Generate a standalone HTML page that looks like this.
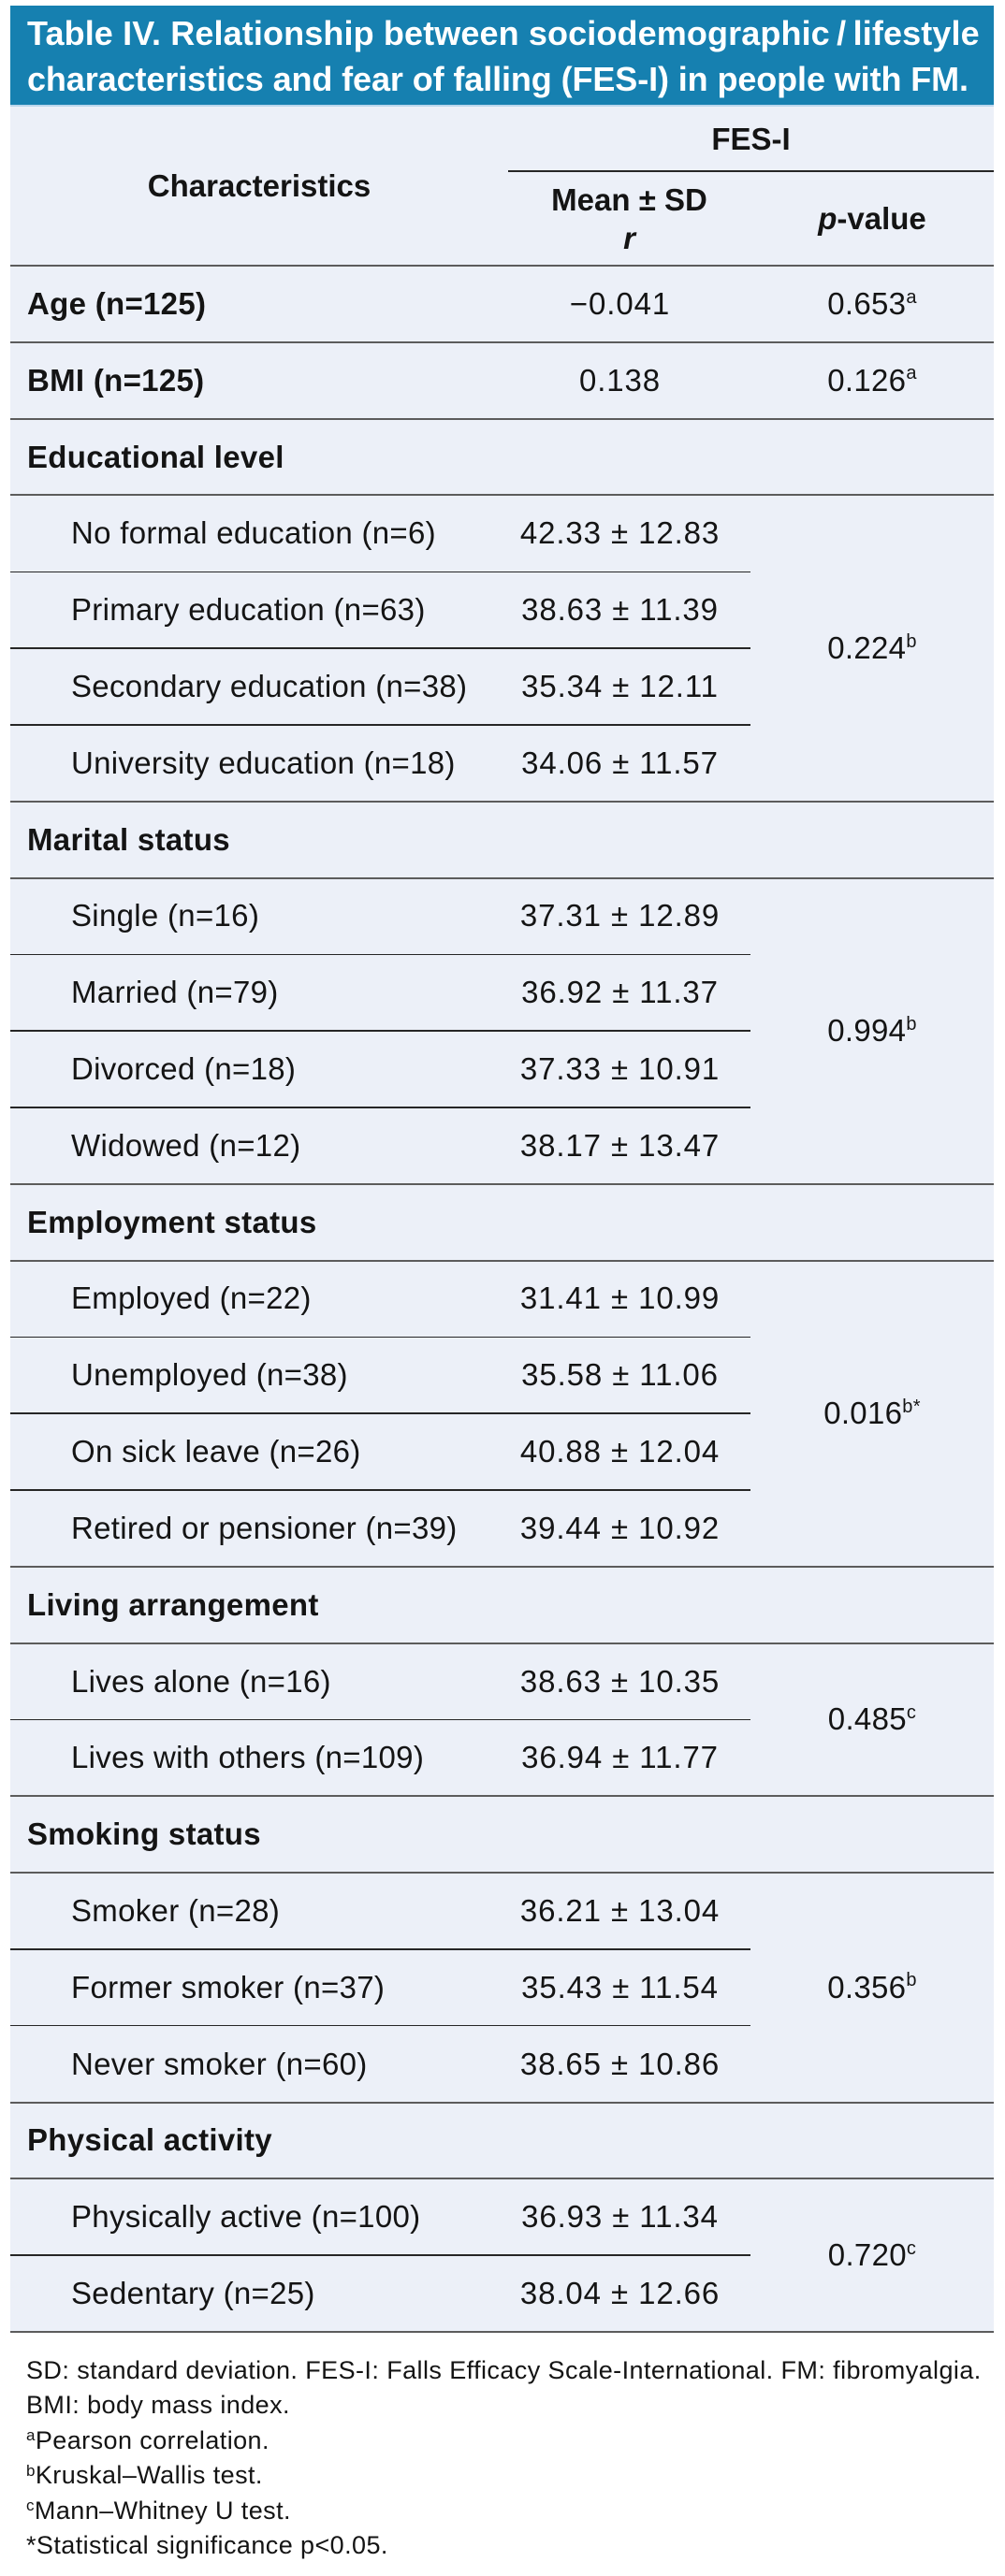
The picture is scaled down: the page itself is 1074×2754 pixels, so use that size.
<!DOCTYPE html>
<html>
<head>
<meta charset="utf-8">
<style>
  html,body{margin:0;padding:0;background:#fff;}
  body{width:1074px;height:2754px;position:relative;overflow:hidden;
       font-family:"Liberation Sans", Arial, sans-serif;color:#141414;}
  .abs{position:absolute;}
  .hdr{left:11px;top:6px;width:1051px;height:107px;background:#1680b0;}
  .hdrline{left:11px;top:112px;width:1051px;height:2px;background:#b9d6ec;}
  .title{left:29px;top:11px;color:#fff;font-weight:bold;font-size:36px;line-height:49px;white-space:nowrap;letter-spacing:-0.1px;}
  .body{left:11px;top:114px;width:1051px;height:2380px;background:#ecf0f8;}
  .main{left:11px;width:1051px;height:2px;background:#5c5c5c;}
  .sub{left:11px;width:791px;height:1.5px;background:#262626;}
  .cell{position:absolute;display:flex;align-items:center;font-size:33px;white-space:nowrap;}
  .c{justify-content:center;}
  .b{font-weight:bold;}
  sup{font-size:20px;line-height:0;vertical-align:0;position:relative;top:-0.62em;}
  .grid{position:absolute;left:11px;top:284px;width:1051px;display:grid;
        grid-template-columns:532px 259px 260px;grid-auto-rows:81.815px;}
  .grid > div{display:flex;align-items:center;font-size:33px;white-space:nowrap;}
  .t{padding-left:18px;font-weight:bold;letter-spacing:0.3px;}
  .s{padding-left:65px;letter-spacing:0.3px;}
  .m{justify-content:center;padding-right:20px;letter-spacing:0.9px;}
  .p{justify-content:center;letter-spacing:0.3px;}
  .foot{left:28px;top:2516px;font-size:27px;line-height:37.4px;letter-spacing:0.42px;white-space:nowrap;}
  .foot sup{font-size:17px;top:-0.5em;}
</style>
</head>
<body>
  <div class="abs hdr"></div>
  <div class="abs title"><span style="letter-spacing:0.12px;">Table IV. Relationship between sociodemographic&#8201;/&#8201;lifestyle</span><br>characteristics and fear of falling (FES-I) in people with FM.</div>
  <div class="abs body"></div>
  <div class="abs hdrline"></div>

  <!-- header cells -->
  <div class="cell c b" style="left:11px;top:114px;width:532px;height:170px;">Characteristics</div>
  <div class="cell c b" style="left:543px;top:114px;width:519px;height:69px;">FES-I</div>
  <div class="abs" style="left:543px;top:182px;width:519px;height:1.5px;background:#262626;"></div>
  <div class="cell c b" style="left:543px;top:183px;width:259px;height:101px;text-align:center;line-height:41px;"><div>Mean ± SD<br><i>r</i></div></div>
  <div class="cell c b" style="left:802px;top:183px;width:260px;height:101px;"><span><i>p</i>-value</span></div>

  <div class="grid">
    <!-- row 0 -->
    <div class="t">Age (n=125)</div><div class="m">−0.041</div><div class="p"><span>0.653<sup>a</sup></span></div>
    <!-- row 1 -->
    <div class="t">BMI (n=125)</div><div class="m">0.138</div><div class="p"><span>0.126<sup>a</sup></span></div>
    <!-- row 2 -->
    <div class="t" style="grid-column:1 / span 3;">Educational level</div>
    <!-- rows 3-6 -->
    <div class="s">No formal education (n=6)</div><div class="m">42.33 ± 12.83</div>
    <div class="p" style="grid-column:3;grid-row:span 4;"><span>0.224<sup>b</sup></span></div>
    <div class="s">Primary education (n=63)</div><div class="m">38.63 ± 11.39</div>
    <div class="s">Secondary education (n=38)</div><div class="m">35.34 ± 12.11</div>
    <div class="s">University education (n=18)</div><div class="m">34.06 ± 11.57</div>
    <!-- row 7 -->
    <div class="t" style="grid-column:1 / span 3;">Marital status</div>
    <!-- rows 8-11 -->
    <div class="s">Single (n=16)</div><div class="m">37.31 ± 12.89</div>
    <div class="p" style="grid-column:3;grid-row:span 4;"><span>0.994<sup>b</sup></span></div>
    <div class="s">Married (n=79)</div><div class="m">36.92 ± 11.37</div>
    <div class="s">Divorced (n=18)</div><div class="m">37.33 ± 10.91</div>
    <div class="s">Widowed (n=12)</div><div class="m">38.17 ± 13.47</div>
    <!-- row 12 -->
    <div class="t" style="grid-column:1 / span 3;">Employment status</div>
    <!-- rows 13-16 -->
    <div class="s">Employed (n=22)</div><div class="m">31.41 ± 10.99</div>
    <div class="p" style="grid-column:3;grid-row:span 4;"><span>0.016<sup>b*</sup></span></div>
    <div class="s">Unemployed (n=38)</div><div class="m">35.58 ± 11.06</div>
    <div class="s">On sick leave (n=26)</div><div class="m">40.88 ± 12.04</div>
    <div class="s">Retired or pensioner (n=39)</div><div class="m">39.44 ± 10.92</div>
    <!-- row 17 -->
    <div class="t" style="grid-column:1 / span 3;">Living arrangement</div>
    <!-- rows 18-19 -->
    <div class="s">Lives alone (n=16)</div><div class="m">38.63 ± 10.35</div>
    <div class="p" style="grid-column:3;grid-row:span 2;"><span>0.485<sup>c</sup></span></div>
    <div class="s">Lives with others (n=109)</div><div class="m">36.94 ± 11.77</div>
    <!-- row 20 -->
    <div class="t" style="grid-column:1 / span 3;">Smoking status</div>
    <!-- rows 21-23 -->
    <div class="s">Smoker (n=28)</div><div class="m">36.21 ± 13.04</div>
    <div class="p" style="grid-column:3;grid-row:span 3;"><span>0.356<sup>b</sup></span></div>
    <div class="s">Former smoker (n=37)</div><div class="m">35.43 ± 11.54</div>
    <div class="s">Never smoker (n=60)</div><div class="m">38.65 ± 10.86</div>
    <!-- row 24 -->
    <div class="t" style="grid-column:1 / span 3;">Physical activity</div>
    <!-- rows 25-26 -->
    <div class="s">Physically active (n=100)</div><div class="m">36.93 ± 11.34</div>
    <div class="p" style="grid-column:3;grid-row:span 2;"><span>0.720<sup>c</sup></span></div>
    <div class="s">Sedentary (n=25)</div><div class="m">38.04 ± 12.66</div>
  </div>

  <!-- main lines -->
  <div class="abs main" style="top:283px;"></div>
  <div class="abs main" style="top:364.8px;"></div>
  <div class="abs main" style="top:446.6px;"></div>
  <div class="abs main" style="top:528.4px;"></div>
  <div class="abs main" style="top:855.7px;"></div>
  <div class="abs main" style="top:937.5px;"></div>
  <div class="abs main" style="top:1264.8px;"></div>
  <div class="abs main" style="top:1346.6px;"></div>
  <div class="abs main" style="top:1673.9px;"></div>
  <div class="abs main" style="top:1755.7px;"></div>
  <div class="abs main" style="top:1919.3px;"></div>
  <div class="abs main" style="top:2001.1px;"></div>
  <div class="abs main" style="top:2246.6px;"></div>
  <div class="abs main" style="top:2328.4px;"></div>
  <div class="abs main" style="top:2492px;"></div>

  <!-- sub lines -->
  <div class="abs sub" style="top:610.5px;"></div>
  <div class="abs sub" style="top:692.3px;"></div>
  <div class="abs sub" style="top:774.1px;"></div>
  <div class="abs sub" style="top:1019.5px;"></div>
  <div class="abs sub" style="top:1101.4px;"></div>
  <div class="abs sub" style="top:1183.2px;"></div>
  <div class="abs sub" style="top:1428.6px;"></div>
  <div class="abs sub" style="top:1510.4px;"></div>
  <div class="abs sub" style="top:1592.2px;"></div>
  <div class="abs sub" style="top:1837.7px;"></div>
  <div class="abs sub" style="top:2083.1px;"></div>
  <div class="abs sub" style="top:2164.9px;"></div>
  <div class="abs sub" style="top:2410.4px;"></div>

  <div class="abs foot">
    SD: standard deviation. FES-I: Falls Efficacy Scale-International. FM: fibromyalgia.<br>
    BMI: body mass index.<br>
    <sup>a</sup>Pearson correlation.<br>
    <sup>b</sup>Kruskal–Wallis test.<br>
    <sup>c</sup>Mann–Whitney U test.<br>
    *Statistical significance p&lt;0.05.
  </div>
</body>
</html>
